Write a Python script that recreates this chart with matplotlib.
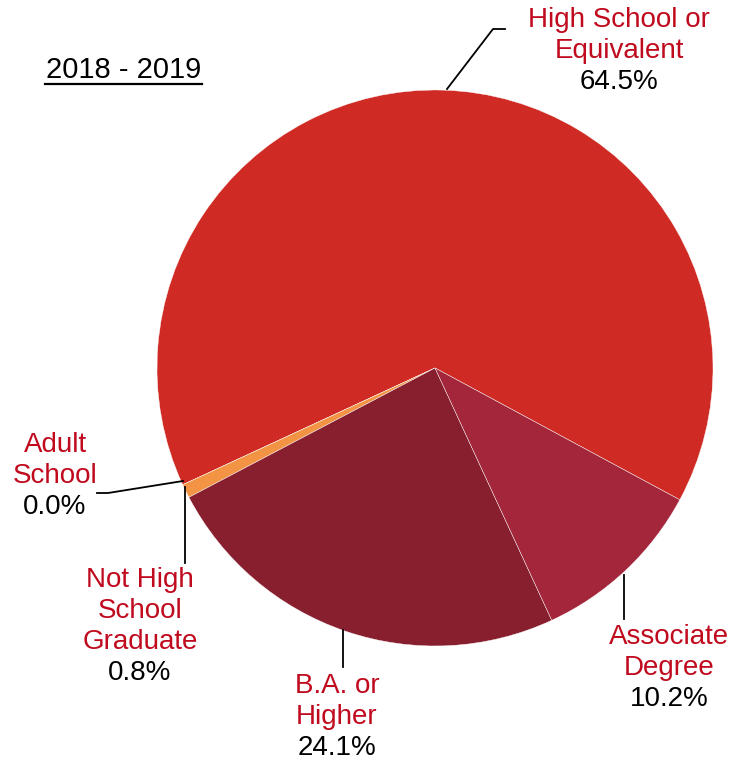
import matplotlib.pyplot as plt

W, H = 736, 761

labels = ['High School or\nEquivalent', 'Adult\nSchool', 'Not High\nSchool\nGraduate', 'B.A. or\nHigher', 'Associate\nDegree']
values = [64.5, 0.0, 0.8, 24.1, 10.2]
colors = ['#CF2A23', '#F39444', '#F39444', '#871F2F', '#A3263A']
title = '2018 - 2019'

# label placement in pixel coords (x, y of top line center), leader line points
label_pos = [(619, 20), (55, 445), (140, 580), (337, 686), (669, 637)]
leaders = [
    [(447, 89), (493, 29), (505, 29)],
    [(183, 481), (108, 493), (97, 493)],
    [(185, 487), (185, 563)],
    [(343, 630), (343, 667)],
    [(624, 575), (624, 619)],
]

plt.rcParams['font.family'] = ['Liberation Sans', 'DejaVu Sans']

fig = plt.figure(figsize=(W / 100, H / 100), dpi=100)
ax = fig.add_axes([0, 0, 1, 1])
ax.set_xlim(0, W)
ax.set_ylim(0, H)
ax.set_aspect('equal')
ax.axis('off')

def fy(y):
    return H - y

ax.pie(values, colors=colors, startangle=-28.3, counterclock=True,
       center=(435, fy(368)), radius=278, normalize=True,
       wedgeprops=dict(edgecolor='white', linewidth=0.3))
ax.set_xlim(0, W)
ax.set_ylim(0, H)

red = '#C00A1E'
lh = 31
fs = 20
for lab, v, (x, y), pts in zip(labels, values, label_pos, leaders):
    lines = lab.split('\n')
    for i, ln in enumerate(lines):
        ax.text(x, fy(y + i * lh), ln, color=red, fontsize=fs, ha='center', va='center')
    ax.text(x, fy(y + len(lines) * lh), '%.1f%%' % v, color='black', fontsize=fs,
            ha='center', va='center')
    ax.plot([p[0] for p in pts], [fy(p[1]) for p in pts], color='black', lw=1.3)

ax.text(124, fy(70), title, fontsize=21, ha='center', va='center', color='black')
ax.plot([45, 202], [fy(84), fy(84)], color='black', lw=1.6)

fig.savefig('out.png', dpi=100)
